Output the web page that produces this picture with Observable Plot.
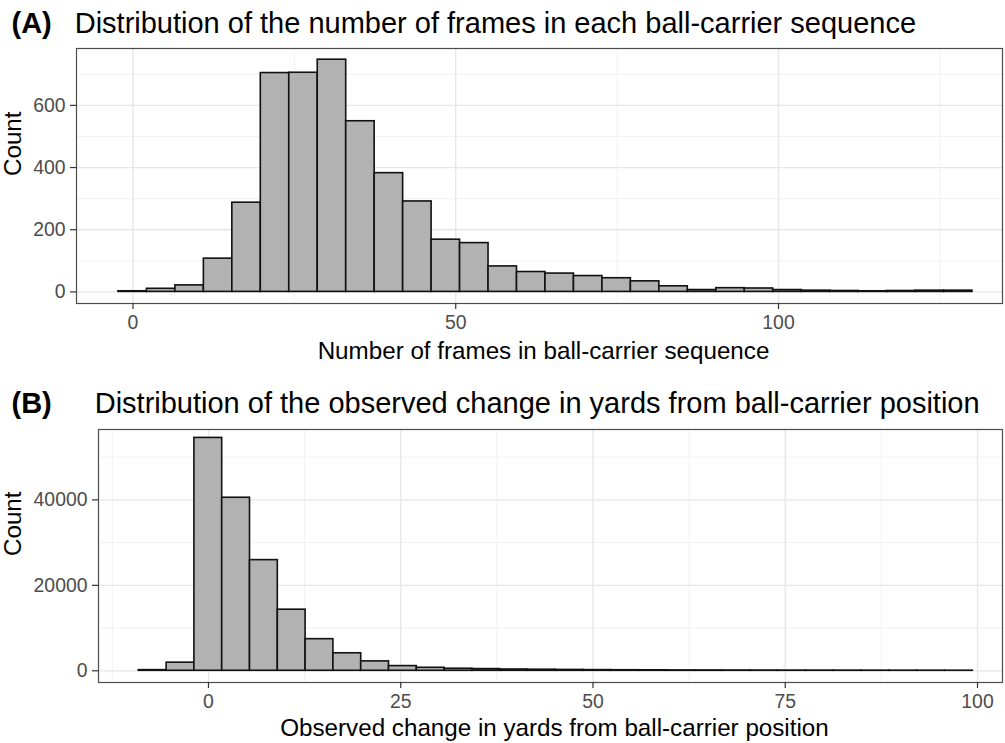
<!DOCTYPE html>
<html>
<head>
<meta charset="utf-8">
<script src="https://cdn.jsdelivr.net/npm/d3@7"></script>
<script src="https://cdn.jsdelivr.net/npm/@observablehq/plot@0.6"></script>
<style>
  html, body { margin: 0; padding: 0; background: white; }
  #root { position: relative; width: 1005px; height: 743px; font-family: "Liberation Sans", Arial, Helvetica, sans-serif; }
  .tag { position: absolute; font-size: 29px; line-height: 29px; font-weight: bold; color: #000; white-space: nowrap; }
  .ttl { position: absolute; font-size: 29px; line-height: 29px; color: #000; white-space: nowrap; }
  .plot { position: absolute; left: 0; }
</style>
</head>
<body>
<div id="root">
  <div class="tag" style="left:11.5px; top:8.8px;">(A)</div>
  <div class="ttl" style="left:74.7px; top:8.8px;">Distribution of the number of frames in each ball-carrier sequence</div>
  <div class="plot" id="pa" style="top:40px;"></div>
  <div class="tag" style="left:11.5px; top:388.8px;">(B)</div>
  <div class="ttl" style="left:94.7px; top:388.8px;">Distribution of the observed change in yards from ball-carrier position</div>
  <div class="plot" id="pb" style="top:420px;"></div>
</div>
<script>
// ---- Panel A data: frames per ball-carrier sequence (30 bins) ----
const binStartA = -2.25;
const binWidthA = 4.41;
const countsA = [2, 10, 21, 107, 287, 704, 705, 747, 549, 382, 291, 168, 157, 82, 64, 59, 51, 44, 34, 18, 6, 12, 11, 6, 4, 3, 2, 3, 4, 4];
const xTicksA = [0, 50, 100];
const xMinorA = [25, 75, 125];
const yTicksA = [0, 200, 400, 600];
const yMinorA = [100, 300, 500, 700];
const xLabelA = "Number of frames in ball-carrier sequence";

// ---- Panel B data: observed change in yards (30 bins) ----
const binStartB = -9.06;
const binWidthB = 3.615;
const countsB = [150, 1900, 54500, 40500, 25900, 14300, 7400, 4100, 2200, 1100, 700, 480, 400, 300, 250, 200, 160, 130, 110, 90, 80, 70, 60, 50, 45, 40, 35, 30, 25, 20];
const xTicksB = [0, 25, 50, 75, 100];
const xMinorB = [-12.5, 12.5, 37.5, 62.5, 87.5];
const yTicksB = [0, 20000, 40000];
const yMinorB = [10000, 30000, 50000];
const xLabelB = "Observed change in yards from ball-carrier position";

const yLabel = "Count";

function toBins(start, width, counts) {
  return counts.map((c, i) => ({x1: start + i * width, x2: start + (i + 1) * width, count: c}));
}

const font = '"Liberation Sans", Arial, Helvetica, sans-serif';
const plain = d3.format("d");

function panel({bins, xDomain, yDomain, xTicks, xMinor, yTicks, yMinor, xLabel, height, marginLeft, marginTop, marginBottom, xLabelDy, yLabelDx, xLabelDx}) {
  return Plot.plot({
    width: 1005,
    height,
    marginLeft,
    marginRight: 3,
    marginTop,
    marginBottom,
    style: {fontFamily: font, background: "white", overflow: "visible"},
    x: {domain: xDomain},
    y: {domain: yDomain},
    marks: [
      Plot.gridX(xMinor, {stroke: "#ebebeb", strokeWidth: 0.7, strokeOpacity: 1}),
      Plot.gridY(yMinor, {stroke: "#ebebeb", strokeWidth: 0.7, strokeOpacity: 1}),
      Plot.gridX(xTicks, {stroke: "#e6e6e6", strokeWidth: 1.3, strokeOpacity: 1}),
      Plot.gridY(yTicks, {stroke: "#e6e6e6", strokeWidth: 1.3, strokeOpacity: 1}),
      Plot.rectY(bins, {x1: "x1", x2: "x2", y: "count", fill: "#b2b2b2", stroke: "#111", strokeWidth: 1.6}),
      Plot.frame({stroke: "#4d4d4d", strokeWidth: 1.2}),
      Plot.axisX(xTicks, {tickSize: 6, tickPadding: 6, fontSize: 19.4, stroke: "#333", fill: "#4d4d4d", strokeWidth: 1.2, tickFormat: plain, label: null}),
      Plot.axisY(yTicks, {tickSize: 6, tickPadding: 5, fontSize: 19.4, stroke: "#333", fill: "#4d4d4d", strokeWidth: 1.2, tickFormat: plain, label: null}),
      Plot.text([xLabel], {frameAnchor: "bottom", dy: xLabelDy, dx: xLabelDx, fontSize: 24.2, fill: "#000"}),
      Plot.text([yLabel], {frameAnchor: "left", dx: yLabelDx, rotate: -90, fontSize: 24.2, fill: "#000"})
    ]
  });
}

document.getElementById("pa").append(panel({
  bins: toBins(binStartA, binWidthA, countsA),
  xDomain: [-8.75, 134.7], yDomain: [-37.3, 783],
  xTicks: xTicksA, xMinor: xMinorA, yTicks: yTicksA, yMinor: yMinorA,
  xLabel: xLabelA, height: 330, marginLeft: 76, marginTop: 8, marginBottom: 67,
  xLabelDy: 55, xLabelDx: 4, yLabelDx: -63.5
}));

document.getElementById("pb").append(panel({
  bins: toBins(binStartB, binWidthB, countsB),
  xDomain: [-14.3, 103.25], yDomain: [-2742, 56470],
  xTicks: xTicksB, xMinor: xMinorB, yTicks: yTicksB, yMinor: yMinorB,
  xLabel: xLabelB, height: 323, marginLeft: 98, marginTop: 9, marginBottom: 61,
  xLabelDy: 53.5, xLabelDx: 4, yLabelDx: -85.5
}));
</script>
</body>
</html>
